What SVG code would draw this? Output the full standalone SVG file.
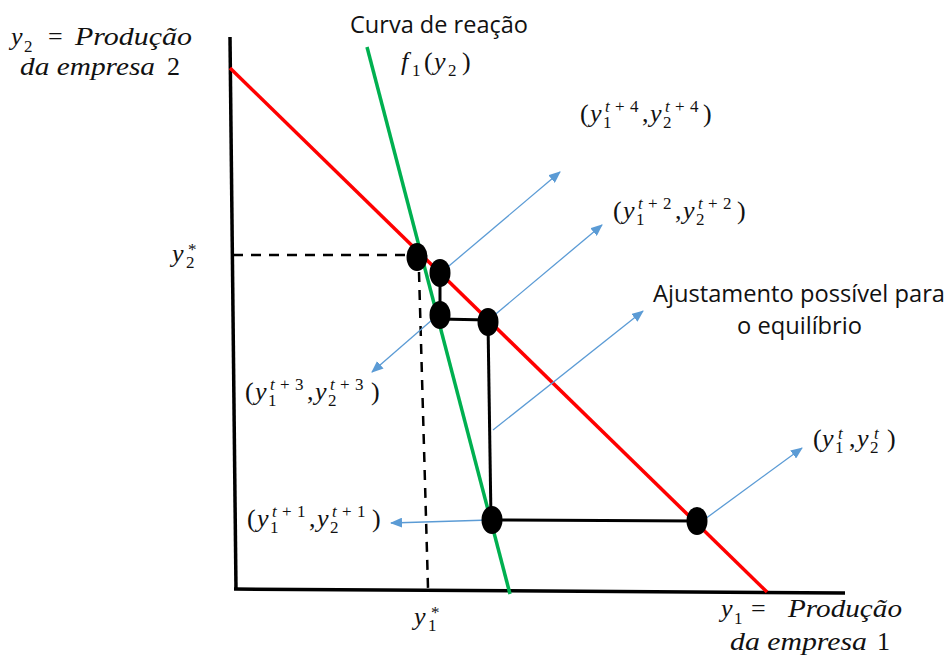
<svg xmlns="http://www.w3.org/2000/svg" width="952" height="659" viewBox="0 0 952 659">
<defs>
<marker id="ah" markerUnits="userSpaceOnUse" markerWidth="12" markerHeight="10" refX="11" refY="5" orient="auto">
<path d="M0,0 L12,5 L0,10 Z" fill="#5B9BD5"/>
</marker>
<style>
.m{font-family:"Liberation Serif",serif;font-size:26px;fill:#111}
.i{font-style:italic}
.s{font-size:17px}
.t{font-family:"Open Sans","Liberation Sans",sans-serif;font-size:24px;fill:#111}
.ax{stroke:#000;stroke-width:3.5;fill:none}
.dash{stroke:#000;stroke-width:2.5;stroke-dasharray:10 8;fill:none}
.blk{stroke:#000;stroke-width:3;fill:none}
.arr{stroke:#5B9BD5;stroke-width:1.3;fill:none;marker-end:url(#ah)}
.dot{fill:#000}
</style>
</defs>
<rect width="952" height="659" fill="#fff"/>
<g id="axes">
<line class="ax" x1="230" y1="37" x2="236" y2="590"/>
<line class="ax" x1="234" y1="589" x2="845" y2="593"/>
</g>
<g id="curves">
<line x1="230" y1="68" x2="767" y2="592" stroke="#FF0000" stroke-width="3.5"/>
<line x1="367" y1="47" x2="510" y2="594" stroke="#00B050" stroke-width="3.5"/>
</g>
<g id="connectors">
<line class="dash" x1="233" y1="255" x2="410" y2="255"/>
<line class="dash" x1="419" y1="272" x2="428" y2="588"/>
<line class="blk" x1="440" y1="273" x2="440" y2="315"/>
<line class="blk" x1="440" y1="319" x2="488" y2="320"/>
<line class="blk" x1="488" y1="322" x2="491" y2="520"/>
<line class="blk" x1="492" y1="520" x2="697" y2="521"/>
<line class="arr" x1="443" y1="271" x2="560" y2="172"/>
<line class="arr" x1="491" y1="318" x2="602" y2="225"/>
<line class="arr" x1="493" y1="430" x2="643" y2="311"/>
<line class="arr" x1="440" y1="313" x2="372" y2="372"/>
<line class="arr" x1="490" y1="520" x2="391" y2="523"/>
<line class="arr" x1="705" y1="519" x2="802" y2="448"/>
</g>
<g id="points">
<ellipse id="p-eq" class="dot" cx="417" cy="257" rx="10.5" ry="14"/>
<ellipse id="p-t4" class="dot" cx="440" cy="273" rx="10.5" ry="14"/>
<ellipse id="p-t3" class="dot" cx="440" cy="315" rx="10.5" ry="14"/>
<ellipse id="p-t2" class="dot" cx="488" cy="322" rx="10.5" ry="14"/>
<ellipse id="p-t1" class="dot" cx="492" cy="520" rx="10.5" ry="14"/>
<ellipse id="p-t" class="dot" cx="697" cy="521" rx="10.5" ry="14"/>
</g>
<g id="label-y2axis">
<text class="m"><tspan x="11" y="45" class="i">y</tspan><tspan x="24" y="52" class="s">2</tspan><tspan x="48" y="45">=</tspan></text>
<text class="m i" x="75" y="45" textLength="117" lengthAdjust="spacingAndGlyphs">Produção</text>
<text class="m i" x="20" y="75" textLength="135" lengthAdjust="spacingAndGlyphs">da empresa</text>
<text class="m" x="167" y="75">2</text>
</g>
<g id="label-y1axis">
<text class="m"><tspan x="721" y="617" class="i">y</tspan><tspan x="734" y="624" class="s">1</tspan><tspan x="751" y="617">=</tspan></text>
<text class="m i" x="788" y="617" textLength="114" lengthAdjust="spacingAndGlyphs">Produção</text>
<text class="m i" x="730" y="650" textLength="137" lengthAdjust="spacingAndGlyphs">da empresa</text>
<text class="m" x="877" y="650">1</text>
</g>
<g id="label-curva">
<text class="t" x="350" y="33" textLength="178" lengthAdjust="spacingAndGlyphs">Curva de reação</text>
<text class="m"><tspan x="401" y="70" class="i">f</tspan><tspan x="412" y="76" class="s">1</tspan><tspan x="424" y="70">(</tspan><tspan x="434" y="70" class="i">y</tspan><tspan x="448" y="76" class="s">2</tspan><tspan x="462" y="70">)</tspan></text>
</g>
<g id="label-ajust">
<text class="t" x="653" y="302" textLength="292" lengthAdjust="spacingAndGlyphs">Ajustamento possível para</text>
<text class="t" x="737" y="334" textLength="125" lengthAdjust="spacingAndGlyphs">o equilíbrio</text>
</g>
<g id="label-t4">
<text class="m"><tspan x="580" y="122">(</tspan><tspan x="590" y="122" class="i">y</tspan><tspan x="603" y="128" class="s">1</tspan><tspan x="605" y="112" class="s i">t</tspan><tspan x="615" y="112" class="s">+</tspan><tspan x="630" y="112" class="s">4</tspan><tspan x="642" y="122">,</tspan><tspan x="650" y="122" class="i">y</tspan><tspan x="663" y="128" class="s">2</tspan><tspan x="665" y="112" class="s i">t</tspan><tspan x="675" y="112" class="s">+</tspan><tspan x="690" y="112" class="s">4</tspan><tspan x="703" y="122">)</tspan></text>
</g>
<g id="label-t2">
<text class="m"><tspan x="613" y="219">(</tspan><tspan x="623" y="219" class="i">y</tspan><tspan x="636" y="225" class="s">1</tspan><tspan x="638" y="209" class="s i">t</tspan><tspan x="648" y="209" class="s">+</tspan><tspan x="663" y="209" class="s">2</tspan><tspan x="675" y="219">,</tspan><tspan x="683" y="219" class="i">y</tspan><tspan x="696" y="225" class="s">2</tspan><tspan x="698" y="209" class="s i">t</tspan><tspan x="708" y="209" class="s">+</tspan><tspan x="723" y="209" class="s">2</tspan><tspan x="737" y="219">)</tspan></text>
</g>
<g id="label-t3">
<text class="m"><tspan x="245" y="400">(</tspan><tspan x="255" y="400" class="i">y</tspan><tspan x="268" y="406" class="s">1</tspan><tspan x="270" y="390" class="s i">t</tspan><tspan x="280" y="390" class="s">+</tspan><tspan x="295" y="390" class="s">3</tspan><tspan x="307" y="400">,</tspan><tspan x="315" y="400" class="i">y</tspan><tspan x="328" y="406" class="s">2</tspan><tspan x="330" y="390" class="s i">t</tspan><tspan x="340" y="390" class="s">+</tspan><tspan x="355" y="390" class="s">3</tspan><tspan x="371" y="400">)</tspan></text>
</g>
<g id="label-t1">
<text class="m"><tspan x="247" y="527">(</tspan><tspan x="257" y="527" class="i">y</tspan><tspan x="270" y="533" class="s">1</tspan><tspan x="272" y="517" class="s i">t</tspan><tspan x="282" y="517" class="s">+</tspan><tspan x="297" y="517" class="s">1</tspan><tspan x="309" y="527">,</tspan><tspan x="317" y="527" class="i">y</tspan><tspan x="330" y="533" class="s">2</tspan><tspan x="332" y="517" class="s i">t</tspan><tspan x="342" y="517" class="s">+</tspan><tspan x="357" y="517" class="s">1</tspan><tspan x="372" y="527">)</tspan></text>
</g>
<g id="label-t">
<text class="m"><tspan x="813" y="447">(</tspan><tspan x="822" y="447" class="i">y</tspan><tspan x="835" y="453" class="s">1</tspan><tspan x="838" y="439" class="s i">t</tspan><tspan x="849" y="447">,</tspan><tspan x="857" y="447" class="i">y</tspan><tspan x="870" y="453" class="s">2</tspan><tspan x="874" y="439" class="s i">t</tspan><tspan x="887" y="447">)</tspan></text>
</g>
<g id="label-y2star">
<text class="m"><tspan x="172" y="262" class="i">y</tspan><tspan x="186" y="268" class="s">2</tspan><tspan x="188" y="255" class="s">*</tspan></text>
</g>
<g id="label-y1star">
<text class="m"><tspan x="414" y="625" class="i">y</tspan><tspan x="428" y="631" class="s">1</tspan><tspan x="431" y="618" class="s">*</tspan></text>
</g>
</svg>
